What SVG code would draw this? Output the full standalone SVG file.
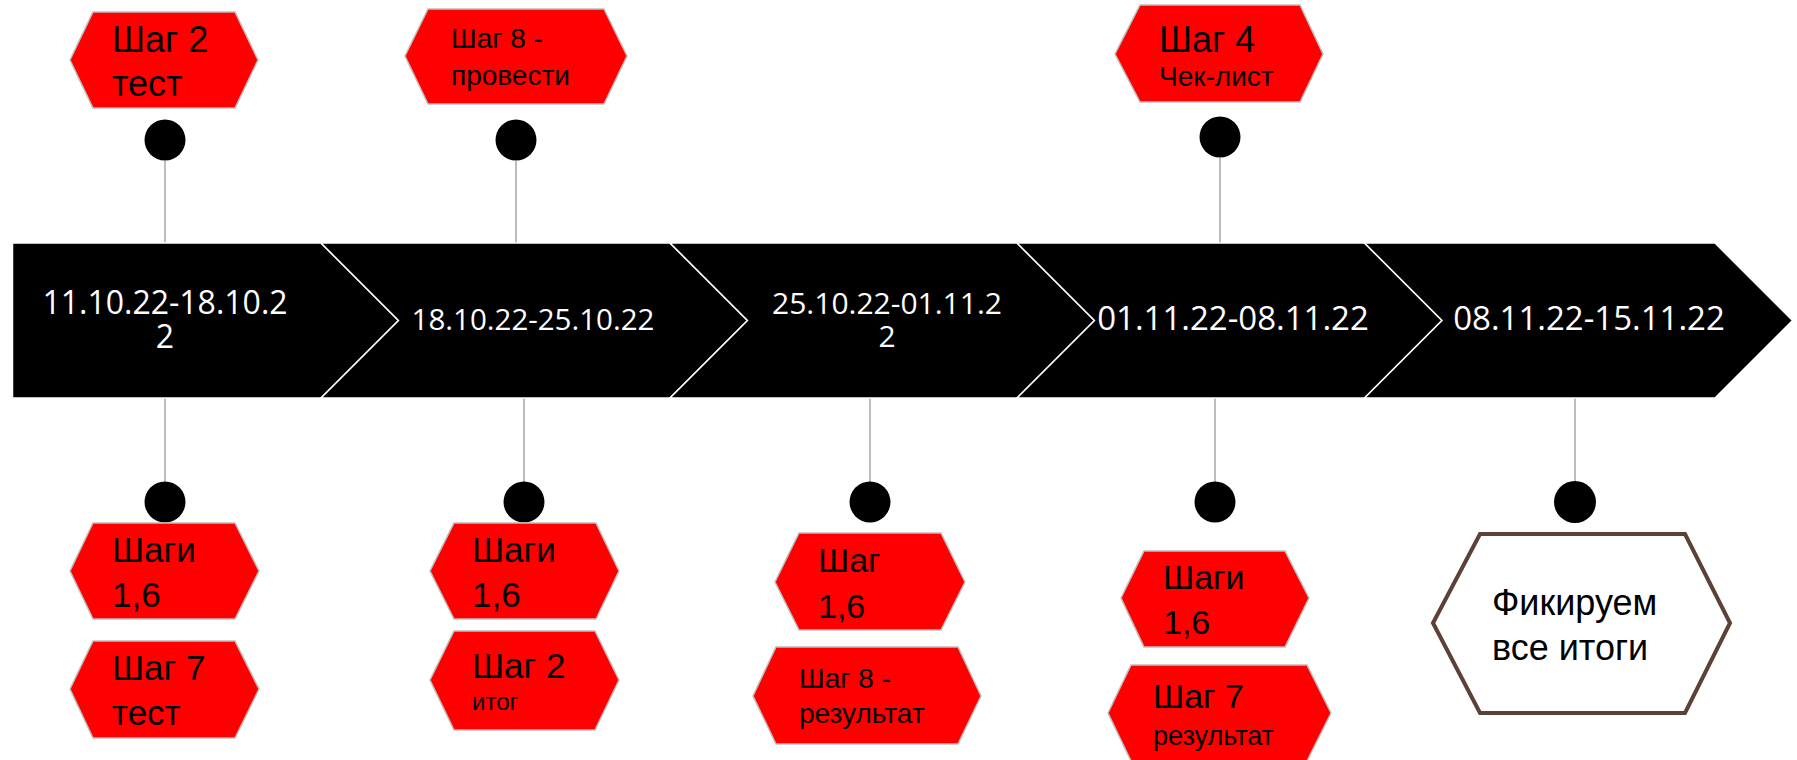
<svg xmlns="http://www.w3.org/2000/svg" width="1797" height="760" viewBox="0 0 1797 760">
<style>
.seg{fill:#000;stroke:#fff;stroke-width:1.5}
.hex{fill:#ff0000;stroke:#bdbdbd;stroke-width:1.5}
.fin{fill:#fff;stroke:#5d4037;stroke-width:4}
.dot{fill:#000}
.con{stroke:#bdbdbd;stroke-width:2;fill:none}
.t{font-family:"Liberation Sans",Arial,sans-serif;fill:#000}
.d{font-family:"Open Sans",sans-serif;fill:#fff;text-anchor:middle}
</style>
<rect width="1797" height="760" fill="#fff"/>
<g id="connectors">
<line class="con" x1="165" y1="161" x2="165" y2="243"/>
<line class="con" x1="516" y1="161" x2="516" y2="243"/>
<line class="con" x1="1220" y1="158" x2="1220" y2="243"/>
<line class="con" x1="165" y1="398" x2="165" y2="482"/>
<line class="con" x1="524" y1="398" x2="524" y2="482"/>
<line class="con" x1="870" y1="398" x2="870" y2="482"/>
<line class="con" x1="1215" y1="398" x2="1215" y2="482"/>
<line class="con" x1="1575" y1="398" x2="1575" y2="482"/>
</g>
<g id="timeline">
<g id="seg1"><polygon class="seg" points="12.5,243 321,243 398.5,320.5 321,398 12.5,398"/>
<text class="d" font-size="32" x="165" y="314">11.10.22-18.10.2</text><text class="d" font-size="32" x="165" y="348">2</text></g>
<g id="seg2"><polygon class="seg" points="321,243 670,243 747.5,320.5 670,398 321,398 398.5,320.5"/>
<text class="d" font-size="29.5" x="533" y="330">18.10.22-25.10.22</text></g>
<g id="seg3"><polygon class="seg" points="670,243 1017,243 1094.5,320.5 1017,398 670,398 747.5,320.5"/>
<text class="d" font-size="30" x="887" y="314">25.10.22-01.11.2</text><text class="d" font-size="30" x="887" y="347">2</text></g>
<g id="seg4"><polygon class="seg" points="1017,243 1364.5,243 1442,320.5 1364.5,398 1017,398 1094.5,320.5"/>
<text class="d" font-size="33" x="1233" y="330">01.11.22-08.11.22</text></g>
<g id="seg5"><polygon class="seg" points="1364.5,243 1715,243 1792.5,320.5 1715,398 1364.5,398 1442,320.5"/>
<text class="d" font-size="33" x="1589" y="330">08.11.22-15.11.22</text></g>
</g>
<g id="dots">
<circle class="dot" cx="165" cy="140" r="20.5"/>
<circle class="dot" cx="516" cy="140" r="20.5"/>
<circle class="dot" cx="1220" cy="137" r="20.5"/>
<circle class="dot" cx="165" cy="502" r="20.5"/>
<circle class="dot" cx="524" cy="502" r="20.5"/>
<circle class="dot" cx="870" cy="502" r="20.5"/>
<circle class="dot" cx="1215" cy="502" r="20.5"/>
<circle class="dot" cx="1575" cy="502" r="21"/>
</g>
<g id="top1"><polygon class="hex" points="70,60 93,12 235,12 258,60 235,108 93,108"/>
<text class="t" font-size="36" x="112" y="52">Шаг 2</text><text class="t" font-size="36" x="112" y="96">тест</text></g>
<g id="top2"><polygon class="hex" points="405,56 428,9 604,9 627,56 604,104 428,104"/>
<text class="t" font-size="28" x="451" y="48">Шаг 8 -</text><text class="t" font-size="28" x="451" y="85">провести</text></g>
<g id="top3"><polygon class="hex" points="1115,54 1140,5 1300,5 1323,54 1300,102 1140,102"/>
<text class="t" font-size="36" x="1159" y="52">Шаг 4</text><text class="t" font-size="28" x="1159" y="86">Чек-лист</text></g>
<g id="b1a"><polygon class="hex" points="70,571 93,523 235,523 259,571 235,619 93,619"/>
<text class="t" font-size="35" x="112" y="562">Шаги</text><text class="t" font-size="35" x="112" y="607">1,6</text></g>
<g id="b1b"><polygon class="hex" points="70,689 93,641 235,641 259,689 235,738 93,738"/>
<text class="t" font-size="35" x="112" y="680">Шаг 7</text><text class="t" font-size="35" x="112" y="725">тест</text></g>
<g id="b2a"><polygon class="hex" points="430,571 454,523 596,523 619,571 596,619 454,619"/>
<text class="t" font-size="35" x="472" y="562">Шаги</text><text class="t" font-size="35" x="472" y="607">1,6</text></g>
<g id="b2b"><polygon class="hex" points="430,680 454,631 595,631 619,680 595,730 454,730"/>
<text class="t" font-size="35" x="472" y="678">Шаг 2</text><text class="t" font-size="24" x="472" y="710">итог</text></g>
<g id="b3a"><polygon class="hex" points="775,582 799,533 941,533 965,582 941,630 799,630"/>
<text class="t" font-size="34" x="818" y="572">Шаг</text><text class="t" font-size="34" x="818" y="618">1,6</text></g>
<g id="b3b"><polygon class="hex" points="753,696 776,647 958,647 981,696 958,744 776,744"/>
<text class="t" font-size="28" x="799" y="688">Шаг 8 -</text><text class="t" font-size="28" x="799" y="723">результат</text></g>
<g id="b4a"><polygon class="hex" points="1121,598 1144,551 1285,551 1309,598 1285,647 1144,647"/>
<text class="t" font-size="34" x="1163" y="589">Шаги</text><text class="t" font-size="34" x="1163" y="634">1,6</text></g>
<g id="b4b"><polygon class="hex" points="1108,713 1131,665 1307,665 1331,713 1307,761 1131,761"/>
<text class="t" font-size="34" x="1153" y="708">Шаг 7</text><text class="t" font-size="27" x="1153" y="745">результат</text></g>
<g id="b5"><polygon class="fin" points="1433,623 1480,534 1685,534 1730,623 1685,713 1480,713"/>
<text class="t" font-size="36" x="1492" y="615">Фикируем</text><text class="t" font-size="36" x="1492" y="660">все итоги</text></g>
</svg>
